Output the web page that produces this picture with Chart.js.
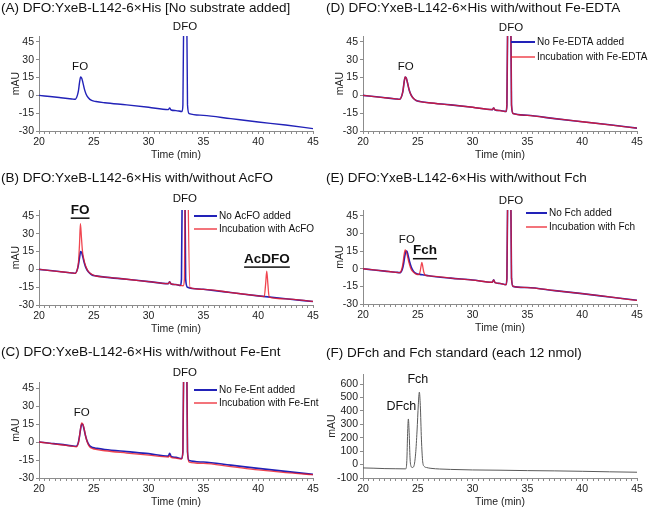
<!DOCTYPE html>
<html>
<head>
<meta charset="utf-8">
<script src="https://cdn.jsdelivr.net/npm/chart.js@4.4.0/dist/chart.umd.min.js"></script>
<style>
  body { margin: 0; width: 648px; height: 507px; position: relative; overflow: hidden; background: #fff;
         font-family: "Liberation Sans", Arial, sans-serif; }
  canvas { position: absolute; }
  .ttl { position: absolute; font-size: 13.5px; color: #111; white-space: nowrap; z-index: 2; }
</style>
</head>
<body>
<div class="ttl" style="left:1px;top:0px">(A) DFO:YxeB-L142-6×His [No substrate added]</div>
<div class="ttl" style="left:326px;top:0px">(D) DFO:YxeB-L142-6×His with/without Fe-EDTA</div>
<div class="ttl" style="left:1px;top:170px">(B) DFO:YxeB-L142-6×His with/without AcFO</div>
<div class="ttl" style="left:326px;top:170px">(E) DFO:YxeB-L142-6×His with/without Fch</div>
<div class="ttl" style="left:1px;top:344px">(C) DFO:YxeB-L142-6×His with/without Fe-Ent</div>
<div class="ttl" style="left:326px;top:345px">(F) DFch and Fch standard (each 12 nmol)</div>
<script>
// ---- data (time in min, absorbance in mAU) ----
const timeTicks = [20, 25, 30, 35, 40, 45];
const mauTicks = [-30, -15, 0, 15, 30, 45];
const mauTicksF = [-100, 0, 100, 200, 300, 400, 500, 600];

// (A) no substrate
const tA = [20, 21, 22, 23, 23.3, 23.5, 23.6, 23.7, 23.8, 23.9, 24.0, 24.15, 24.3, 24.5, 24.8, 25.2, 26, 28, 30, 31.8, 31.92, 32.05, 32.5, 33.05, 33.13, 33.22, 33.3, 33.38, 33.47, 33.55, 33.7, 35, 37.5, 40, 42.5, 45];
const noSubA = [0, -1, -2, -3, -3.3, 0, 4, 11, 15.5, 14.5, 11, 5, 1, -2, -4.3, -5.2, -6.2, -8, -10, -12, -10.6, -12.3, -12.8, -13.6, -8, 90, 200, 200, 90, -8, -15.3, -16.8, -19.6, -22.4, -25, -28];

// (D) Fe-EDTA
const tD = [20, 21, 22, 23, 23.35, 23.55, 23.65, 23.75, 23.85, 23.95, 24.05, 24.2, 24.35, 24.55, 24.85, 25.2, 26, 28, 30, 31.8, 31.92, 32.05, 32.5, 33.05, 33.13, 33.22, 33.3, 33.38, 33.47, 33.55, 33.7, 35, 37.5, 40, 42.5, 45];
const noEdtaD = [0, -1, -2, -3, -3.3, 0, 4, 11, 15.5, 14.5, 11, 5, 1, -2, -4.3, -5.2, -6.2, -8, -10, -12, -10.6, -12.3, -12.8, -13.6, -8, 90, 200, 200, 90, -8, -15.3, -16.8, -19.6, -22.2, -24.8, -27.6];
const withEdtaD = [0, -1, -2, -3, -3.3, 0, 4, 11, 15.5, 14.5, 11, 5, 1, -2, -4.3, -5.2, -6.2, -8, -10, -12, -10.6, -12.3, -12.8, -13.6, -8, 90, 200, 200, 90, -8, -15.3, -16.8, -19.6, -22.2, -24.8, -27.6];

// (B) AcFO
const tBn = [20, 21, 22, 23, 23.3, 23.5, 23.6, 23.7, 23.8, 23.9, 24.0, 24.15, 24.3, 24.5, 24.8, 25.2, 26, 28, 30, 31.8, 31.92, 32.05, 32.5, 32.9, 33.0, 33.08, 33.15, 33.22, 33.3, 33.38, 33.55, 35, 37.5, 40, 42.5, 45];
const noAcfoB = [0, -1, -2, -3, -3.3, 0, 4, 10, 15, 14, 10.5, 5, 1, -2, -4.5, -5.5, -6.5, -8.3, -10.3, -12, -10.5, -12.3, -12.8, -13.6, -8, 90, 200, 200, 90, -8, -15, -16.8, -19.5, -22.3, -24.8, -27];
const tBw = [20, 21, 22, 23, 23.3, 23.5, 23.6, 23.7, 23.78, 23.87, 23.97, 24.1, 24.25, 24.45, 24.7, 25.0, 25.3, 26, 28, 30, 31.8, 31.92, 32.05, 32.5, 33.15, 33.27, 33.35, 33.42, 33.5, 33.58, 33.78, 35, 37.5, 40, 40.55, 40.68, 40.78, 40.88, 41.0, 42.5, 45];
const withAcfoB = [0, -1, -2, -3, -3.3, 0, 6, 22, 38.5, 27, 15, 8, 3, -1, -3.5, -5, -5.8, -6.5, -8.3, -10.3, -12, -10.5, -12.3, -12.8, -13.8, -8, 90, 200, 200, 90, -15.3, -16.8, -19.5, -22.3, -23, -12, -1.5, -12, -23.3, -24.8, -27];

// (E) Fch
const tEn = [20, 21, 22, 23, 23.4, 23.6, 23.7, 23.8, 23.9, 24.0, 24.1, 24.25, 24.4, 24.6, 24.85, 25.2, 25.6, 26, 28, 30, 31.8, 31.92, 32.05, 32.5, 33.05, 33.13, 33.22, 33.3, 33.38, 33.47, 33.55, 33.7, 35, 37.5, 40, 42.5, 45];
const noFchE = [0, -1, -2, -3, -3.3, 0, 4, 10, 14.5, 15, 12, 6, 1.5, -2, -4, -4.8, -5.3, -6, -8, -9.6, -11.5, -9.5, -11.8, -12.5, -13.5, -8, 90, 200, 200, 90, -8, -15, -16, -18.6, -21.2, -24, -26.8];
const tEw = [20, 21, 22, 23, 23.35, 23.55, 23.65, 23.75, 23.85, 23.95, 24.05, 24.2, 24.35, 24.55, 24.8, 25.1, 25.22, 25.3, 25.37, 25.45, 25.55, 25.7, 26, 28, 30, 31.8, 31.92, 32.05, 32.5, 33.05, 33.13, 33.22, 33.3, 33.38, 33.47, 33.55, 33.7, 35, 37.5, 40, 42.5, 45];
const withFchE = [0, -1, -2, -3, -3.3, 0, 5, 12, 16, 14.5, 11, 5, 0.5, -2.5, -4.3, -5, -2, 2.5, 5.3, 2, -3, -5.6, -6, -8, -9.6, -11.5, -9.5, -11.8, -12.5, -13.5, -8, 90, 200, 200, 90, -8, -15, -16, -18.6, -21.2, -24, -27];

// (C) Fe-Ent
const tC = [20, 21, 22, 23, 23.4, 23.6, 23.7, 23.8, 23.9, 24.0, 24.1, 24.25, 24.4, 24.6, 24.9, 25.3, 26, 28, 30, 31.8, 31.92, 32.05, 32.5, 33.0, 33.13, 33.22, 33.3, 33.38, 33.47, 33.55, 33.7, 35, 37.5, 40, 42.5, 45];
const noEntC = [0, -1, -2, -3.2, -3.6, 0, 5, 11, 15, 14.5, 11, 5, 0.5, -3, -4.6, -5.3, -6.2, -8, -9.7, -11.8, -9.4, -12, -12.8, -13.8, -8, 90, 200, 200, 90, -8, -15.5, -16.7, -19.3, -22, -24.5, -27];
const withEntC = [0, -1.2, -2.3, -3.5, -4, -0.5, 5, 12, 16, 15, 12, 5, 0, -3.8, -5.6, -6.3, -7.3, -9.2, -11, -12.6, -11.3, -12.8, -13.5, -14.2, -8, 90, 200, 200, 90, -8, -16.7, -17.8, -20.5, -23.3, -25.5, -27.2];

// (F) standards
const tF = [20, 21, 22, 23, 23.9, 24.0, 24.07, 24.14, 24.21, 24.29, 24.38, 24.5, 24.65, 24.8, 24.93, 25.05, 25.14, 25.23, 25.33, 25.45, 25.6, 25.8, 26.2, 27, 28, 30, 32.5, 35, 37.5, 40, 42.5, 45];
const stdF = [-25, -27, -30, -31, -32, 30, 230, 340, 240, 50, -12, -22, -10, 80, 250, 450, 540, 440, 190, 20, -15, -22, -28, -33, -36, -40, -42, -45, -47, -50, -54, -57];

// ---- drawing ----
const FONT = '"Liberation Sans", Arial, sans-serif';
const blue = '#2222b8';
const red = 'rgba(236,24,36,0.8)';
const axisGrey = '#8c8c8c';

function trace(t, v, color, width, order) {
  return {
    data: t.map((x, i) => ({x: x, y: v[i]})),
    borderColor: color, borderWidth: width, pointRadius: 0, fill: false,
    cubicInterpolationMode: 'monotone', order: order
  };
}

// peak names and in-plot legend
function peakMarks(marks, legend) {
  return {
    id: 'peakMarks',
    afterDraw(chart) {
      const ctx = chart.ctx, a = chart.chartArea, x = chart.scales.x, y = chart.scales.y;
      ctx.save();
      ctx.fillStyle = '#111';
      ctx.textAlign = 'center';
      ctx.textBaseline = 'middle';
      marks.forEach(m => {
        ctx.font = (m.bold ? 'bold ' : '') + m.size + 'px ' + FONT;
        const px = x.getPixelForValue(m.t), py = y.getPixelForValue(m.v);
        ctx.fillText(m.text, px, py);
        if (m.bold) {
          const w = ctx.measureText(m.text).width;
          ctx.fillRect(px - w / 2, py + m.size * 0.55, w, 1.5);
        }
      });
      if (legend) {
        ctx.textAlign = 'left';
        ctx.font = '10px ' + FONT;
        legend.items.forEach((it, i) => {
          const yy = a.top + legend.dy + i * legend.gap, x0 = a.left + legend.dx;
          ctx.strokeStyle = it.color;
          ctx.lineWidth = it.width;
          ctx.beginPath(); ctx.moveTo(x0, yy); ctx.lineTo(x0 + legend.len, yy); ctx.stroke();
          ctx.fillText(it.text, x0 + legend.len + 2, yy);
        });
      }
      ctx.restore();
    }
  };
}

function makePanel(cfg) {
  const [bx, by, bw, bh] = cfg.box;
  const [pl, pr, pt, pb] = cfg.plot;
  const xH = 29;
  const cv = document.createElement('canvas');
  cv.width = bw; cv.height = bh;
  cv.style.left = bx + 'px'; cv.style.top = by + 'px';
  document.body.appendChild(cv);
  new Chart(cv, {
    type: 'line',
    data: {datasets: cfg.datasets},
    options: {
      responsive: false, animation: false, devicePixelRatio: 1,
      layout: {padding: {left: 0, right: bx + bw - pr, top: pt - by, bottom: by + bh - pb - xH}},
      plugins: {legend: {display: false}, tooltip: {enabled: false}},
      scales: {
        x: {
          type: 'linear', min: 20, max: 45,
          afterBuildTicks: s => { const t = []; for (let v = 20; v <= 45; v += 0.5) t.push({value: v}); s.ticks = t; },
          afterFit: s => { s.height = xH; },
          grid: {drawOnChartArea: false, color: axisGrey, tickLength: 3},
          border: {color: axisGrey},
          ticks: {autoSkip: false, maxRotation: 0, padding: 2, color: '#222', font: {family: FONT, size: 10.5},
                  callback: v => timeTicks.includes(v) ? String(v) : ''},
          title: {display: true, text: 'Time (min)', color: '#222', font: {family: FONT, size: 10.5, lineHeight: 1}, padding: 0}
        },
        y: {
          type: 'linear', min: cfg.y[0], max: cfg.y[1],
          afterBuildTicks: s => { s.ticks = cfg.yTicks.map(v => ({value: v})); },
          afterFit: s => { s.width = pl - bx; },
          grid: {drawOnChartArea: false, color: axisGrey, tickLength: 3},
          border: {color: axisGrey},
          ticks: {autoSkip: false, padding: 2, color: '#222', font: {family: FONT, size: 10.5}},
          title: {display: true, text: 'mAU', color: '#222', font: {family: FONT, size: 10.5, lineHeight: 1},
                  padding: {top: cfg.yTitleX - 5, bottom: 0}}
        }
      }
    },
    plugins: [peakMarks(cfg.marks, cfg.legend)]
  });
}

makePanel({
  box: [0, 0, 324, 168], plot: [39, 313, 36, 131], y: [-30, 50], yTicks: mauTicks, yTitleX: 16,
  datasets: [trace(tA, noSubA, blue, 1.4, 1)],
  marks: [{text: 'FO', t: 23.75, v: 24, size: 11.5}, {text: 'DFO', t: 33.32, v: 57.5, size: 11.5}]
});

makePanel({
  box: [324, 0, 324, 168], plot: [363, 637, 36, 131], y: [-30, 50], yTicks: mauTicks, yTitleX: 16,
  datasets: [trace(tD, noEdtaD, blue, 1.6, 1), trace(tD, withEdtaD, red, 1.3, 0)],
  marks: [{text: 'FO', t: 23.9, v: 24, size: 11.5}, {text: 'DFO', t: 33.5, v: 57, size: 11.5}],
  legend: {dx: 148, dy: 6, gap: 15, len: 24, items: [
    {text: 'No Fe-EDTA added', color: blue, width: 2},
    {text: 'Incubation with Fe-EDTA', color: red, width: 1.5}]}
});

makePanel({
  box: [0, 168, 324, 168], plot: [39, 313, 210, 305], y: [-30, 50], yTicks: mauTicks, yTitleX: 16,
  datasets: [trace(tBn, noAcfoB, blue, 1.6, 1), trace(tBw, withAcfoB, red, 1.3, 0)],
  marks: [{text: 'FO', t: 23.75, v: 50, size: 13.5, bold: true}, {text: 'DFO', t: 33.3, v: 59.3, size: 11.5},
          {text: 'AcDFO', t: 40.8, v: 8.8, size: 13.5, bold: true}],
  legend: {dx: 155, dy: 6, gap: 13, len: 23, items: [
    {text: 'No AcFO added', color: blue, width: 2},
    {text: 'Incubation with AcFO', color: red, width: 1.5}]}
});

makePanel({
  box: [324, 168, 324, 168], plot: [363, 637, 210, 304], y: [-30, 50], yTicks: mauTicks, yTitleX: 16,
  datasets: [trace(tEn, noFchE, blue, 1.6, 1), trace(tEw, withFchE, red, 1.3, 0)],
  marks: [{text: 'FO', t: 24.0, v: 24.8, size: 11.5}, {text: 'Fch', t: 25.65, v: 15.5, size: 13.5, bold: true},
          {text: 'DFO', t: 33.5, v: 57.6, size: 11.5}],
  legend: {dx: 163, dy: 3, gap: 14, len: 21, items: [
    {text: 'No Fch added', color: blue, width: 2},
    {text: 'Incubation with Fch', color: red, width: 1.5}]}
});

makePanel({
  box: [0, 336, 324, 171], plot: [39, 313, 382, 478], y: [-30, 50], yTicks: mauTicks, yTitleX: 16,
  datasets: [trace(tC, noEntC, blue, 1.6, 1), trace(tC, withEntC, red, 1.3, 0)],
  marks: [{text: 'FO', t: 23.9, v: 24, size: 11.5}, {text: 'DFO', t: 33.3, v: 58, size: 11.5}],
  legend: {dx: 155, dy: 8, gap: 13, len: 23, items: [
    {text: 'No Fe-Ent added', color: blue, width: 2},
    {text: 'Incubation with Fe-Ent', color: red, width: 1.5}]}
});

makePanel({
  box: [324, 336, 324, 171], plot: [363, 637, 374, 478], y: [-100, 675], yTicks: mauTicksF, yTitleX: 7.5,
  datasets: [trace(tF, stdF, '#5a5a5a', 1, 0)],
  marks: [{text: 'DFch', t: 23.5, v: 429, size: 12.5}, {text: 'Fch', t: 25.0, v: 637, size: 12.5}]
});
</script>
</body>
</html>
